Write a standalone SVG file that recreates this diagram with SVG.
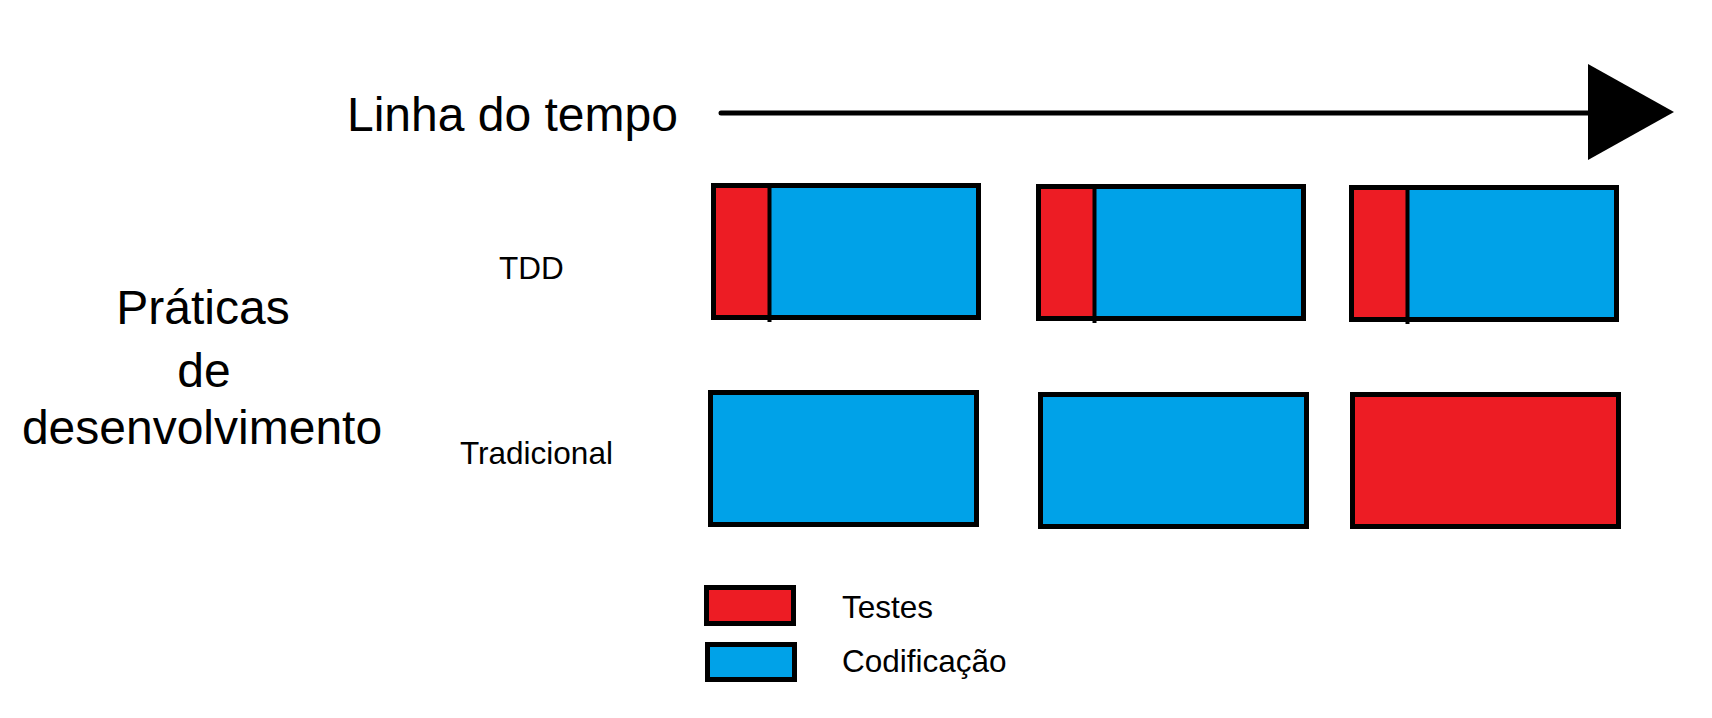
<svg xmlns="http://www.w3.org/2000/svg" width="1712" height="718" viewBox="0 0 1712 718">
<style>
.big{font-family:"Liberation Sans",Arial,sans-serif;font-size:48px;fill:#000}
.small{font-family:"Liberation Sans",Arial,sans-serif;font-size:31.5px;fill:#000}
.frame{fill:none;stroke:#000;stroke-width:5}
.red{fill:#ED1C24}
.blue{fill:#00A2E8}
.div{stroke:#000;stroke-width:4}
</style>
<rect width="1712" height="718" fill="#fff"/>
<g id="title"><text class="big" x="347" y="131">Linha do tempo</text></g>
<g id="praticas"><text class="big" text-anchor="middle" x="203" y="324">Práticas</text><text class="big" text-anchor="middle" x="204" y="387">de</text><text class="big" text-anchor="middle" x="202" y="444">desenvolvimento</text></g>
<g id="label-tdd"><text class="small" x="499" y="279">TDD</text></g>
<g id="label-tradicional"><text class="small" x="460" y="464">Tradicional</text></g>
<g id="connectors">
<line x1="721" y1="113" x2="1589" y2="113" stroke="#000" stroke-width="5" stroke-linecap="round"/>
<polygon points="1588,64 1674,112 1588,160" fill="#000"/>
</g>
<g id="tdd-1"><rect class="blue" x="713.5" y="185.5" width="265" height="132"/><rect class="red" x="713.5" y="185.5" width="56" height="132"/><rect class="frame" x="713.5" y="185.5" width="265" height="132"/><line class="div" x1="769.5" y1="185" x2="769.5" y2="322"/></g>
<g id="tdd-2"><rect class="blue" x="1038.5" y="186.5" width="265" height="132"/><rect class="red" x="1038.5" y="186.5" width="56" height="132"/><rect class="frame" x="1038.5" y="186.5" width="265" height="132"/><line class="div" x1="1094.5" y1="186" x2="1094.5" y2="323"/></g>
<g id="tdd-3"><rect class="blue" x="1351.5" y="187.5" width="265" height="132"/><rect class="red" x="1351.5" y="187.5" width="56" height="132"/><rect class="frame" x="1351.5" y="187.5" width="265" height="132"/><line class="div" x1="1407.5" y1="187" x2="1407.5" y2="324"/></g>
<g id="trad-1"><rect class="frame" style="fill:#00A2E8" x="710.5" y="392.5" width="266" height="132"/></g>
<g id="trad-2"><rect class="frame" style="fill:#00A2E8" x="1040.5" y="394.5" width="266" height="132"/></g>
<g id="trad-3"><rect class="frame" style="fill:#ED1C24" x="1352.5" y="394.5" width="266" height="132"/></g>
<g id="legend-testes"><rect class="frame" style="fill:#ED1C24" x="706.5" y="587.5" width="87" height="36"/><text class="small" x="842" y="618">Testes</text></g>
<g id="legend-codificacao"><rect class="frame" style="fill:#00A2E8" x="707.5" y="644.5" width="87" height="35"/><text class="small" x="842" y="672">Codificação</text></g>
</svg>
